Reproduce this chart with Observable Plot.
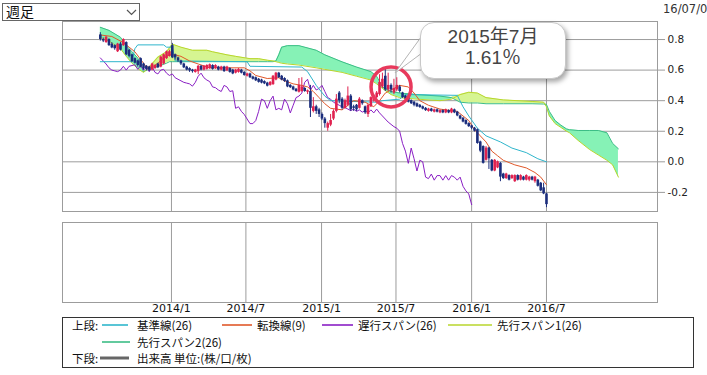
<!DOCTYPE html>
<html><head><meta charset="utf-8">
<script src="https://cdn.jsdelivr.net/npm/d3@7"></script>
<script src="https://cdn.jsdelivr.net/npm/@observablehq/plot@0.6"></script>
<style>
html,body{margin:0;padding:0;background:#fff;overflow:hidden}
#wrap{position:relative;width:707px;height:375px;overflow:hidden;font-family:"Noto Sans CJK JP",sans-serif;color:#222}
#wrap > svg{position:absolute;left:0}
.abs{position:absolute;white-space:nowrap}
</style></head><body><div id="wrap"></div><script>
// ---------- data ----------
const firstWeek = "2013-07-12"; // weekly bars (Fridays)
const open  = [.83,.80,.78,.80,.77,.76,.72,.77,.76,.78, .73,.70,.675,.66,.675,.64,.625,.62,.60,.61,
 .64,.62,.64,.675,.69,.76,.70,.68,.66,.64, .62,.61,.60,.585,.59,.625,.60,.605,.61,.63,
 .61,.62,.60,.62,.595,.61,.60,.58,.585,.60, .585,.56,.575,.555,.55,.54,.535,.525,.515,.50,
 .505,.535,.58,.56,.545,.53,.50,.49,.475,.455, .46,.48,.455,.46,.33,.36,.34,.31,.28,.22,
 .24,.28,.33,.45,.41,.35,.37,.43,.36,.37, .35,.40,.36,.31,.36,.40,.42,.44,.49,.56,
 .47,.50,.45,.47,.49,.45,.43,.42,.40,.39, .38,.37,.36,.35,.33,.345,.325,.34,.32,.335,
 .32,.335,.32,.34,.325,.30,.285,.27,.25,.235, .22,.21,.13,.10,.01,.09,.01,-.06,-.04,-.01,
 -.08,-.11,-.09,-.11,-.13,-.09,-.12,-.10,-.12,-.12, -.10,-.13,-.12,-.14,-.17,-.21];
const close = [.80,.79,.815,.76,.745,.74,.77,.73,.80,.70, .69,.655,.645,.63,.62,.61,.605,.60,.64,.63,
 .615,.685,.70,.72,.72,.68,.68,.66,.64,.615, .60,.595,.59,.60,.625,.60,.625,.63,.635,.605,
 .63,.60,.62,.59,.62,.585,.575,.60,.605,.58, .565,.575,.55,.54,.53,.52,.515,.51,.495,.52,
 .56,.58,.55,.535,.525,.49,.485,.47,.46,.50, .49,.46,.465,.35,.36,.33,.31,.28,.25,.25,
 .27,.33,.41,.40,.35,.40,.43,.34,.35,.34, .41,.38,.32,.37,.42,.43,.45,.52,.54,.47,
 .50,.47,.48,.50,.46,.42,.41,.39,.38,.37, .36,.355,.345,.335,.345,.33,.34,.325,.335,.32,
 .34,.32,.345,.32,.30,.28,.26,.245,.23,.22, .20,.12,.07,-.01,.09,.02,-.06,.01,.00,-.10,
 -.11,-.08,-.12,-.09,-.09,-.12,-.09,-.12,-.09,-.10, -.12,-.10,-.16,-.19,-.21,-.28];
const high  = [.845,.81,.82,.805,.78,.765,.775,.78,.805,.785, .735,.705,.68,.665,.68,.645,.63,.625,.645,.635,
 .645,.69,.705,.725,.73,.775,.705,.685,.665,.645, .625,.615,.605,.605,.63,.63,.63,.635,.64,.635,
 .635,.625,.625,.625,.625,.615,.605,.605,.61,.605, .59,.58,.58,.56,.555,.545,.54,.53,.52,.525,
 .565,.585,.585,.565,.55,.535,.505,.495,.48,.545, .55,.485,.47,.50,.42,.37,.35,.32,.29,.26,
 .31,.34,.44,.46,.42,.41,.49,.44,.37,.375, .42,.405,.365,.375,.425,.44,.46,.57,.58,.61,
 .58,.51,.54,.55,.50,.455,.435,.425,.405,.395, .385,.375,.365,.355,.35,.35,.345,.345,.34,.34,
 .345,.34,.35,.345,.33,.305,.29,.275,.255,.24, .225,.215,.135,.105,.10,.095,.015,.015,.005,-.005,
 -.075,-.075,-.085,-.085,-.085,-.085,-.085,-.095,-.085,-.095, -.095,-.095,-.115,-.135,-.14,-.205];
const low   = [.79,.78,.775,.755,.74,.73,.715,.725,.755,.695, .68,.65,.64,.62,.615,.60,.595,.59,.595,.605,
 .61,.615,.635,.67,.685,.675,.665,.65,.63,.61, .595,.585,.58,.58,.57,.595,.595,.60,.605,.60,
 .605,.595,.595,.585,.59,.58,.57,.575,.58,.575, .56,.555,.545,.535,.525,.515,.51,.505,.49,.495,
 .50,.53,.545,.53,.52,.485,.48,.465,.455,.45, .455,.455,.44,.29,.32,.31,.29,.27,.22,.20,
 .23,.27,.32,.38,.34,.345,.36,.33,.33,.33, .345,.37,.31,.29,.355,.39,.41,.43,.48,.46,
 .46,.45,.44,.46,.45,.415,.40,.385,.375,.36, .355,.35,.34,.33,.325,.325,.32,.32,.315,.315,
 .315,.315,.315,.315,.295,.275,.255,.24,.225,.21, .195,.115,.06,-.015,.005,-.05,-.065,-.065,-.045,-.13,
 -.115,-.115,-.125,-.115,-.135,-.125,-.125,-.125,-.125,-.13, -.125,-.14,-.165,-.195,-.215,-.30];

const kijunWeek  = [0,11,12,13,22,23,25,26,51,52,70,72,75,78,80,96,98,104,106,124,126,128,131,134,139,143,148,152,155];
const kijunValue = [.655,.655,.74,.765,.765,.75,.75,.66,.655,.625,.62,.59,.50,.43,.40,.39,.40,.41,.44,.435,.36,.30,.22,.17,.13,.09,.06,.02,.0];

const tenkanWeek  = [0,4,8,10,12,14,16,18,20,22,24,26,28,31,34,38,50,52,54,58,62,64,67,70,72,74,76,78,80,84,
 88,92,95,97,99,101,104,107,109,111,114,118,124,126,128,130,132,134,136,138,140,144,148,151,153,155];
const tenkanValue = [.83,.82,.78,.75,.72,.67,.62,.62,.645,.68,.70,.70,.69,.66,.64,.615,.615,.595,.565,.545,
 .55,.53,.51,.50,.49,.46,.42,.38,.35,.34,.40,.39,.36,.40,.45,.47,.50,.49,.45,.40,
 .37,.345,.33,.30,.27,.21,.17,.13,.07,.04,.01,-.02,-.04,-.07,-.10,-.15];

const kumoWeek = [0,3,7,9,11,13,15,16,17,20,23,24,25,28,32,37,39,44,47,52,55,58,60,61,62,63,65,69,75,78,
 84,89,94,96,98,101,104,110,118,122,125,128,131,134,140,150,154,155,156,158,160,162,163,166,170,173,176,178,180];
const span1 = [.815,.79,.74,.69,.645,.61,.585,.60,.62,.685,.72,.745,.77,.75,.73,.73,.72,.70,.69,.675,
 .675,.665,.66,.655,.65,.645,.64,.633,.615,.605,.585,.56,.535,.51,.48,.44,.42,.41,.40,.41,
 .44,.455,.45,.42,.405,.395,.39,.36,.30,.25,.225,.20,.19,.14,.08,.045,.01,-.02,-.10];
const span2 = [.88,.86,.815,.76,.72,.68,.59,.60,.605,.625,.645,.655,.655,.655,.655,.655,.655,.655,.655,.655,
 .655,.655,.655,.66,.70,.75,.76,.76,.73,.70,.654,.62,.59,.56,.49,.46,.45,.44,.43,.42,
 .39,.385,.385,.38,.38,.38,.378,.375,.33,.27,.24,.215,.21,.205,.205,.205,.19,.12,.085];
const chikouShift = 26;

const yTicks = [-0.2, 0, 0.2, 0.4, 0.6, 0.8];
const xTicks = ["2014-01-01","2014-07-01","2015-01-01","2015-07-01","2016-01-01","2016-07-01"];
const xDomain = ["2013-04-11","2017-03-28"];
const calloutWeek = 101, calloutValue = 0.49;
const calloutLines = ["2015年7月", "1.61％"];
const periodLabel = "週足";
const dateLabel = "16/07/0";
const legendRow1 = [["基準線(26)","kijun"],["転換線(9)","tenkan"],["遅行スパン(26)","chikou"],["先行スパン1(26)","span1"]];
const legendRow2 = [["先行スパン2(26)","span2"]];
const legendRow3 = [["出来高 単位:(株/口/枚)","volume"]];

// ---------- styles ----------
const C = {kijun:"#2fb6cc", tenkan:"#e0582a", chikou:"#8a1fc4", span1:"#b8d62c", span2:"#3cbd86",
  volume:"#666", up:"#e0214f", down:"#1b2d7c", mint:"#86f2b6", yellow:"#d6f592", grid:"#9c9c9c"};

const day = 864e5;
const t0 = Date.parse(firstWeek);
const wk = w => new Date(t0 + w * 7 * day);
const candles = close.map((c, i) => ({date: wk(i), open: open[i], close: c, high: high[i], low: low[i]}));
const kumo = kumoWeek.map((w, i) => ({date: wk(w), s1: span1[i], s2: span2[i], top: Math.max(span1[i], span2[i])}));
const kijun = kijunWeek.map((w, i) => ({date: wk(w), v: kijunValue[i]}));
const tenkan = tenkanWeek.map((w, i) => ({date: wk(w), v: tenkanValue[i]}));
const chikou = close.slice(chikouShift).map((c, i) => ({date: wk(i), v: c}));
const gridDates = xTicks.map(d => new Date(d));
const dom = xDomain.map(d => new Date(d));
const col = d => d.close >= d.open ? C.up : C.down;

const wrap = document.getElementById("wrap");

const upper = Plot.plot({
  width: 707, height: 215, marginLeft: 62, marginRight: 50, marginTop: 21, marginBottom: 4,
  style: {fontFamily: "DejaVu Sans, sans-serif", fontSize: "10px", color: "#222", background: "transparent"},
  x: {type: "utc", domain: dom, axis: null},
  y: {domain: [-0.325, 0.918]},
  marks: [
    Plot.ruleY(yTicks, {stroke: C.grid}),
    Plot.ruleX(gridDates, {stroke: C.grid}),
    Plot.areaY(kumo, {x: "date", y1: "s1", y2: "top", fill: C.mint}),
    Plot.areaY(kumo, {x: "date", y1: "s2", y2: "top", fill: C.yellow}),
    Plot.line(kumo, {x: "date", y: "s2", stroke: C.span2, strokeWidth: 1}),
    Plot.line(kumo, {x: "date", y: "s1", stroke: C.span1, strokeWidth: 1}),
    Plot.line(chikou, {x: "date", y: "v", stroke: C.chikou, strokeWidth: 1}),
    Plot.line(kijun, {x: "date", y: "v", stroke: C.kijun, strokeWidth: 1}),
    Plot.line(tenkan, {x: "date", y: "v", stroke: C.tenkan, strokeWidth: 1}),
    Plot.ruleX(candles, {x: "date", y1: "low", y2: "high", stroke: col, strokeWidth: 1}),
    Plot.ruleX(candles, {x: "date", y1: "open", y2: "close", stroke: col, strokeWidth: 2.6}),
    Plot.dot([{date: wk(calloutWeek), v: calloutValue}], {x: "date", y: "v", r: 20, stroke: "#e8395c", strokeWidth: 3.5, fill: "none"}),
    Plot.frame({stroke: C.grid}),
    Plot.axisY(yTicks, {anchor: "right", tickSize: 7, tickPadding: 3, stroke: C.grid, fill: "#222",
      tickFormat: d => d.toFixed(1), fontSize: 10.5})
  ]
});
upper.style.top = "0px";
wrap.appendChild(upper);

const lower = Plot.plot({
  width: 707, height: 103, marginLeft: 62, marginRight: 50, marginTop: 7, marginBottom: 16,
  style: {fontFamily: "DejaVu Sans, sans-serif", fontSize: "11px", color: "#111", background: "transparent"},
  x: {type: "utc", domain: dom},
  y: {domain: [0, 1], axis: null},
  marks: [
    Plot.ruleX(gridDates, {stroke: C.grid}),
    Plot.frame({stroke: C.grid}),
    Plot.axisX(gridDates, {tickSize: 0, tickPadding: 2, fill: "#111",
      tickFormat: d => `${d.getUTCFullYear()}/${d.getUTCMonth() + 1}`})
  ]
});
lower.style.top = "215px";
wrap.appendChild(lower);

// ---------- header ----------
function el(tag, css, html) { const e = document.createElement(tag); e.className = "abs"; e.style.cssText = css; if (html != null) e.innerHTML = html; wrap.appendChild(e); return e; }
el("div", "left:2px;top:3px;width:136px;height:16px;border:1px solid #666;background:#fff;");
el("div", "left:6px;top:2px;font-size:14px;line-height:18px;color:#111;", periodLabel);
const chev = document.createElementNS("http://www.w3.org/2000/svg", "svg");
chev.setAttribute("width", "14"); chev.setAttribute("height", "10");
chev.style.cssText = "position:absolute;left:125px;top:8px;";
chev.innerHTML = '<polyline points="2,2 6.5,6.5 11,2" fill="none" stroke="#555" stroke-width="1.2"/>';
wrap.appendChild(chev);
el("div", "left:663px;top:2px;font-size:11.5px;line-height:14px;color:#333;font-family:'DejaVu Sans',sans-serif;", dateLabel);

// ---------- callout ----------
const ptr = document.createElementNS("http://www.w3.org/2000/svg", "svg");
ptr.setAttribute("width", "707"); ptr.setAttribute("height", "120");
ptr.style.cssText = "position:absolute;left:0;top:0;";
ptr.innerHTML = '<path d="M424,33 L395,73 L426,50 Z" fill="#fff" stroke="#b5b5b5" stroke-width="1"/>';
wrap.appendChild(ptr);
el("div", "left:420px;top:22px;width:144px;height:55px;border:1px solid #c8c8c8;border-radius:14px;background:#fff;box-shadow:2px 3px 5px rgba(0,0,0,0.35);");
el("div", "left:420px;top:26px;width:146px;text-align:center;font-size:19px;line-height:21px;color:#444;font-family:'Liberation Sans','Noto Sans CJK JP',sans-serif;", calloutLines.join("<br>"));

// ---------- legend ----------
el("div", "left:62px;top:317px;width:630px;height:49px;border:1px solid #333;background:#fff;");
const fs = "font-size:11.5px;line-height:14px;color:#111;";
el("div", `left:72px;top:318px;${fs}`, "上段:");
el("div", `left:72px;top:351px;${fs}`, "下段:");
const lg = document.createElementNS("http://www.w3.org/2000/svg", "svg");
lg.setAttribute("width", "707"); lg.setAttribute("height", "375");
lg.style.cssText = "position:absolute;left:0;top:0;pointer-events:none;";
wrap.appendChild(lg);
const pos1 = [[102,128,137],[222,252,257],[322,353,358],[448,492,497]];
function item(lbl, key, x1, x2, tx, y, w) {
  const ln = document.createElementNS("http://www.w3.org/2000/svg", "line");
  ln.setAttribute("x1", x1); ln.setAttribute("x2", x2); ln.setAttribute("y1", y); ln.setAttribute("y2", y);
  ln.setAttribute("stroke", C[key]); ln.setAttribute("stroke-width", w);
  lg.appendChild(ln);
  el("div", `left:${tx}px;top:${y - 7}px;${fs}`, lbl);
}
legendRow1.forEach(([l, k], i) => item(l, k, pos1[i][0], pos1[i][1], pos1[i][2], 325, 1.6));
legendRow2.forEach(([l, k]) => item(l, k, 102, 130, 137, 342, 1.6));
legendRow3.forEach(([l, k]) => item(l, k, 100, 129, 137, 358, 3));
</script></body></html>
